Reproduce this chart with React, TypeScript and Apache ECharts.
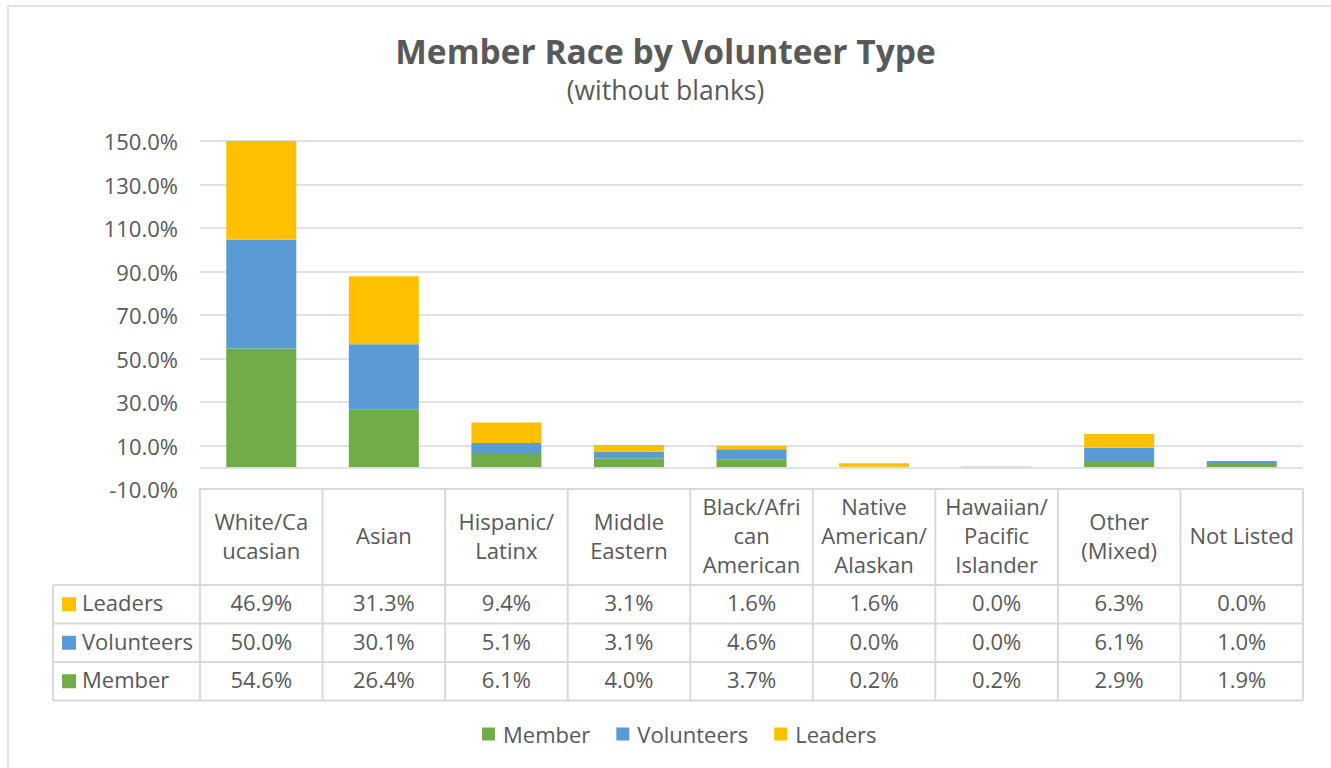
import React, { useEffect, useRef } from "react";
import * as echarts from "echarts";

const categories = [
  "White/Caucasian",
  "Asian",
  "Hispanic/Latinx",
  "Middle Eastern",
  "Black/African American",
  "Native American/Alaskan",
  "Hawaiian/Pacific Islander",
  "Other (Mixed)",
  "Not Listed",
];
const categoryLabels = [
  "White/Ca\nucasian",
  "Asian",
  "Hispanic/\nLatinx",
  "Middle\nEastern",
  "Black/Afri\ncan\nAmerican",
  "Native\nAmerican/\nAlaskan",
  "Hawaiian/\nPacific\nIslander",
  "Other\n(Mixed)",
  "Not Listed",
];
const member = [54.6, 26.4, 6.1, 4.0, 3.7, 0.2, 0.2, 2.9, 1.9];
const volunteers = [50.0, 30.1, 5.1, 3.1, 4.6, 0.0, 0.0, 6.1, 1.0];
const leaders = [46.9, 31.3, 9.4, 3.1, 1.6, 1.6, 0.0, 6.3, 0.0];
const yTicks = [-10, 10, 30, 50, 70, 90, 110, 130, 150];

const seriesNames = ["Member", "Volunteers", "Leaders"];
const seriesColors = ["#70AD47", "#5B9BD5", "#FFC000"];
const seriesData = [member, volunteers, leaders];

const FONT = "'Open Sans', 'Noto Sans', sans-serif";
const TXT = "#595959";
const BORDER = "#D9D9D9";
const FS = 22;

export default function App() {
  const ref = useRef<HTMLDivElement>(null);
  useEffect(() => {
    const chart = echarts.init(ref.current!, null, { renderer: "svg" });
    const gridLeft = 200;
    const gridRight = 28;
    const gridTop = 141;
    const gridBottom = 279;
    chart.setOption({
      animation: false,
      textStyle: { fontFamily: FONT, color: TXT },
      title: {
        text: "Member Race by Volunteer Type",
        subtext: "(without blanks)",
        left: "center",
        top: 29,
        itemGap: 8,
        textStyle: { fontSize: 33.5, fontWeight: "bold", color: TXT, fontFamily: FONT },
        subtextStyle: { fontSize: 26.5, color: TXT, fontFamily: FONT },
      },
      legend: {
        data: seriesNames,
        bottom: 18,
        left: 477,
        icon: "rect",
        itemWidth: 13,
        itemHeight: 13,
        itemGap: 26,
        textStyle: { fontSize: FS, color: TXT, fontFamily: FONT, padding: [0, 0, 0, 3] },
      },
      grid: { left: gridLeft, right: gridRight, top: gridTop, bottom: gridBottom },
      xAxis: {
        type: "category",
        data: categories,
        axisLine: { onZero: false, lineStyle: { color: BORDER, width: 2 } },
        axisTick: { show: false },
        axisLabel: {
          interval: 0,
          margin: 46,
          verticalAlign: "middle",
          fontSize: FS,
          lineHeight: 29,
          color: TXT,
          fontFamily: FONT,
          formatter: (_v: string, i: number) => categoryLabels[i],
        },
      },
      yAxis: {
        type: "value",
        min: -10,
        max: 150,
        axisLine: { show: false },
        axisTick: { show: false, customValues: yTicks },
        axisLabel: {
          customValues: yTicks,
          margin: 22,
          fontSize: FS,
          color: TXT,
          fontFamily: FONT,
          formatter: (v: number) => v.toFixed(1) + "%",
        },
        splitLine: { show: true, lineStyle: { color: BORDER, width: 1.5 } },
      },
      series: seriesNames.map((name, k) => ({
        name,
        type: "bar",
        stack: "total",
        data: seriesData[k],
        barWidth: 70,
        itemStyle: { color: seriesColors[k] },
        clip: true,
        markLine:
          k === 0
            ? {
                silent: true,
                symbol: "none",
                label: { show: false },
                lineStyle: { color: BORDER, width: 1.5, type: "solid" },
                data: [{ yAxis: 0 }],
              }
            : undefined,
      })),
    });

    const xs = categories.map((_, i) => chart.convertToPixel({ xAxisIndex: 0 }, i) as number);
    const colW = xs[1] - xs[0];
    const tableTop = chart.convertToPixel({ yAxisIndex: 0 }, -10) as number;
    const headerBottom = 585;
    const rowH = 38.5;
    const leftX = 53;
    const rightX = xs[xs.length - 1] + colW / 2;
    const tableRows = [2, 1, 0];
    const bottomY = headerBottom + rowH * tableRows.length;
    const lineStyle = { stroke: BORDER, lineWidth: 2 };
    const elements: any[] = [];
    elements.push({
      type: "rect",
      shape: { x: 8, y: 6, width: 1400, height: 900 },
      style: { fill: "none", stroke: BORDER, lineWidth: 1.5 },
      silent: true,
    });
    for (let i = 0; i <= categories.length; i++) {
      const x = xs[0] - colW / 2 + colW * i;
      elements.push({ type: "line", shape: { x1: x, y1: tableTop, x2: x, y2: bottomY }, style: lineStyle });
    }
    elements.push({ type: "line", shape: { x1: leftX, y1: headerBottom, x2: leftX, y2: bottomY }, style: lineStyle });
    for (let r = 0; r <= tableRows.length; r++) {
      const y = headerBottom + rowH * r;
      elements.push({ type: "line", shape: { x1: leftX, y1: y, x2: rightX, y2: y }, style: lineStyle });
    }
    tableRows.forEach((k, r) => {
      const cy = headerBottom + rowH * r + rowH / 2;
      const ty = cy - 2;
      elements.push({
        type: "rect",
        shape: { x: 62, y: cy - 7, width: 14, height: 14 },
        style: { fill: seriesColors[k] },
      });
      elements.push({
        type: "text",
        x: 82,
        y: ty,
        style: {
          text: seriesNames[k],
          fontSize: FS,
          fontFamily: FONT,
          fill: TXT,
          align: "left",
          verticalAlign: "middle",
        },
      });
      seriesData[k].forEach((v, i) => {
        elements.push({
          type: "text",
          x: xs[i],
          y: ty,
          style: {
            text: v.toFixed(1) + "%",
            fontSize: FS,
            fontFamily: FONT,
            fill: TXT,
            align: "center",
            verticalAlign: "middle",
          },
        });
      });
    });
    chart.setOption({ graphic: elements });
    return () => chart.dispose();
  }, []);
  return (
    <div
      ref={ref}
      style={{ position: "fixed", left: 0, top: 0, width: 1331, height: 768, background: "#fff" }}
    />
  );
}
